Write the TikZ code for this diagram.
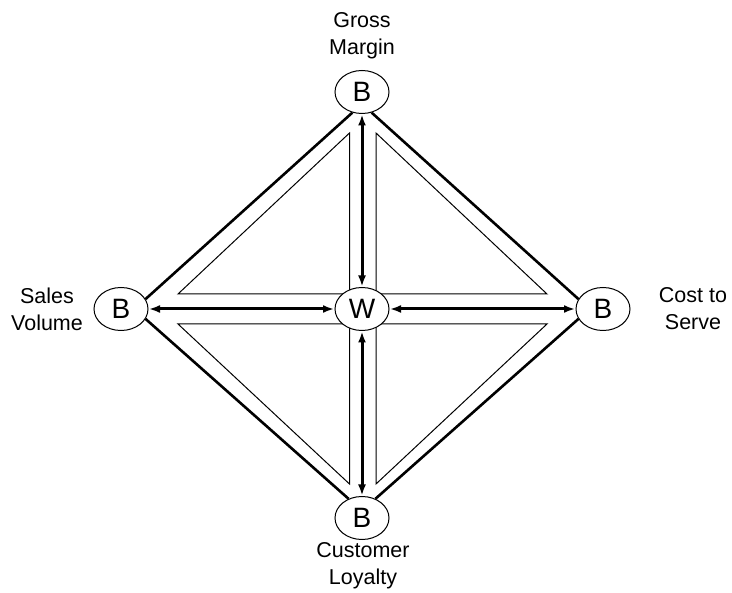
\documentclass[tikz,border=0pt]{standalone}
\usepackage{fontspec}
\setmainfont{Liberation Sans}
\usetikzlibrary{shapes.geometric,arrows.meta}
\begin{document}
\begin{tikzpicture}[x=1pt,y=-1pt,
  bnode/.style={ellipse,draw,line width=1pt,fill=white,minimum width=54pt,minimum height=43pt,inner sep=0pt,font=\fontsize{28}{28}\selectfont},
  lbl/.style={align=center,font=\fontsize{21.5}{27}\selectfont,inner sep=0pt},
  outer/.style={line width=2.6pt},
  tri/.style={draw,line width=1pt,fill=white},
  dbl/.style={line width=3pt,{Latex[length=11pt,width=8pt]}-{Latex[length=11pt,width=8pt]},shorten <=0.5pt,shorten >=0.5pt}]
\useasboundingbox (0,0) rectangle (732,593);
% inner triangles
\path[tri] (349.5,133) -- (178,294) -- (349.5,294) -- cycle;
\path[tri] (376,133) -- (547,294) -- (376,294) -- cycle;
\path[tri] (349.5,484) -- (178,324) -- (349.5,324) -- cycle;
\path[tri] (376,484) -- (547,324) -- (376,324) -- cycle;
% nodes
\node[bnode] (T) at (362,92) {B};
\node[bnode] (L) at (121,309) {B};
\node[bnode] (R) at (603,309) {B};
\node[bnode] (Bo) at (362,518) {B};
\node[bnode] (W) at (362,309) {W};
% labels
\node[lbl] (tT) at (362,36) {Gross\\Margin};
\node[lbl] (tL) at (47,309) {Sales\\Volume};
\node[lbl] (tR) at (693,309) {Cost to\\Serve};
\node[lbl] (tB) at (363,566) {Customer\\Loyalty};
% outer diamond
\draw[outer] (T.245) -- (L.22);
\draw[outer] (T.295) -- (R.158);
\draw[outer] (L.-22) -- (Bo.125);
\draw[outer] (R.202) -- (Bo.55);
% arrows
\draw[dbl] (W) -- (T);
\draw[dbl] (W) -- (L);
\draw[dbl] (W) -- (R);
\draw[dbl] (W) -- (Bo);
\end{tikzpicture}
\end{document}
